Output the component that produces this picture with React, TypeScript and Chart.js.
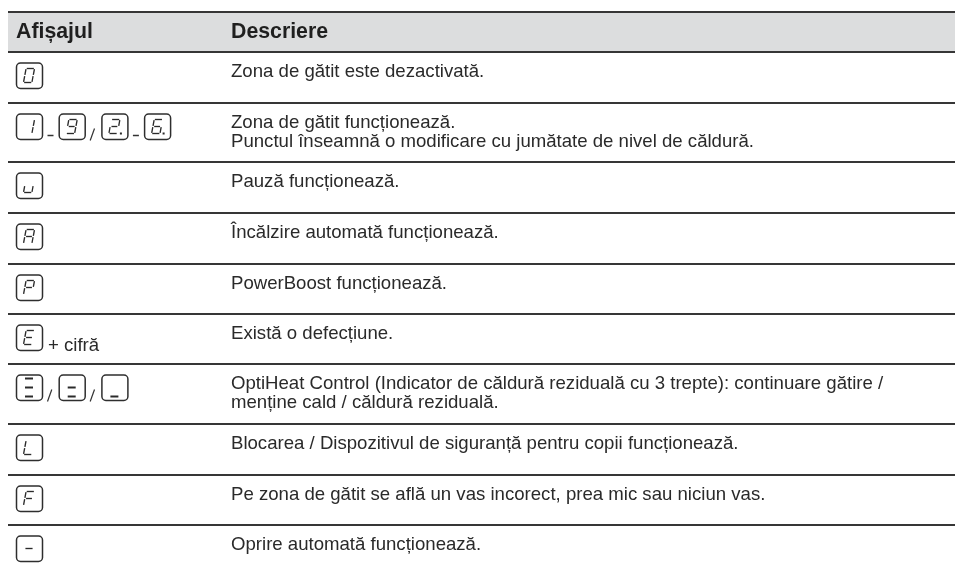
import React, { useEffect, useRef } from "react";
import { Chart, registerables } from "chart.js";

Chart.register(...registerables);

const headers = ["Afișajul", "Descriere"];
const rowLines = [12, 52, 103, 162, 213, 264, 314, 364, 424, 475, 525];
const displayTokens = [
  ["0"],
  ["1", "-", "9", "/", "2.", "-", "6."],
  ["u"],
  ["A"],
  ["P"],
  ["E", "+ cifră"],
  ["h3", "/", "h2", "/", "h1"],
  ["L"],
  ["F"],
  ["g"],
];
const descriptions = [
  ["Zona de gătit este dezactivată."],
  ["Zona de gătit funcționează.", "Punctul înseamnă o modificare cu jumătate de nivel de căldură."],
  ["Pauză funcționează."],
  ["Încălzire automată funcționează."],
  ["PowerBoost funcționează."],
  ["Există o defecțiune."],
  ["OptiHeat Control (Indicator de căldură reziduală cu 3 trepte): continuare gătire /", "menține cald / căldură reziduală."],
  ["Blocarea / Dispozitivul de siguranță pentru copii funcționează."],
  ["Pe zona de gătit se află un vas incorect, prea mic sau niciun vas."],
  ["Oprire automată funcționează."],
];
const segmentsByGlyph: Record<string, string> = {
  "0": "abcdef", "1": "bc", "9": "abcdfg", "2.": "abdeg", "6.": "acdefg",
  u: "cde", A: "abcefg", P: "abefg", E: "adefg", L: "def", F: "aefg", g: "g",
  h3: "adg", h2: "dg", h1: "d",
};

const INK = "#2a2a2a";
const FONT = '"Liberation Sans", Arial, sans-serif';
const BODY_PX = 18.6;
const HEAD_PX = 21.3;

function drawKey(ctx: CanvasRenderingContext2D, x: number, y: number, glyph: string) {
  const w = 26, h = 25.5;
  ctx.strokeStyle = "#2e2e2e";
  ctx.lineWidth = 1.5;
  ctx.beginPath();
  ctx.roundRect(x + 0.5, y + 0.5, w, h, 4);
  ctx.stroke();
  const segs = segmentsByGlyph[glyph] || "";
  const thick = glyph[0] === "h";
  const cx = x + 13, cy = y + 13;
  const hw = thick ? 4.7 : 4.2, hh = thick ? 9 : 7, sl = thick ? 0 : 1.3;
  const P = (u: number, v: number): [number, number] => [cx + u * hw - v * sl, cy + v * hh];
  const gw = thick || glyph === "g" ? 0.85 : 0.7;
  const map: Record<string, [[number, number], [number, number]]> = {
    a: [P(-0.85, -1), P(0.85, -1)],
    g: [P(-gw, 0), P(gw, 0)],
    d: [P(-0.85, 1), P(0.85, 1)],
    b: [P(1, -0.92), P(1, -0.1)],
    c: [P(1, 0.1), P(1, 0.92)],
    e: [P(-1, 0.1), P(-1, 0.92)],
    f: [P(-1, -0.92), P(-1, -0.1)],
  };
  ctx.lineWidth = thick ? 2 : 1.35;
  ctx.strokeStyle = "#2a2a2a";
  for (const s of segs) {
    const [p0, p1] = map[s];
    ctx.beginPath();
    ctx.moveTo(p0[0], p0[1]);
    ctx.lineTo(p1[0], p1[1]);
    ctx.stroke();
  }
  if (glyph.endsWith(".")) {
    ctx.fillStyle = "#2a2a2a";
    ctx.fillRect(cx + 5.5, cy + 6, 2, 2);
  }
}

const tablePlugin = {
  id: "tablePlugin",
  afterDatasetsDraw(chart: any) {
    const { ctx, scales } = chart;
    const X = (v: number) => scales.x.getPixelForValue(v);
    const Y = (v: number) => scales.y.getPixelForValue(v);
    ctx.save();
    ctx.textBaseline = "alphabetic";
    ctx.textAlign = "left";
    ctx.fillStyle = "#1f1f1f";
    ctx.font = `bold ${HEAD_PX}px ${FONT}`;
    ctx.fillText(headers[0], X(16), Y(38));
    ctx.fillText(headers[1], X(231), Y(38));

    descriptions.forEach((lines, i) => {
      const top = rowLines[i + 1];
      ctx.font = `${BODY_PX}px ${FONT}`;
      ctx.fillStyle = INK;
      lines.forEach((t, j) => ctx.fillText(t, X(231), Y(top + 25 + j * 19)));

      const keyY = Y(top + 10.5);
      let slot = 0;
      displayTokens[i].forEach((tok, k) => {
        const prevX = X(16 + (slot - 1) * 42.7);
        if (k % 2 === 0) {
          drawKey(ctx, X(16 + slot * 42.7), keyY, tok);
          slot++;
        } else if (tok === "+ cifră") {
          ctx.font = `${BODY_PX}px ${FONT}`;
          ctx.fillStyle = INK;
          ctx.fillText(tok, X(48), Y(top + 37));
        } else if (tok === "-") {
          ctx.strokeStyle = "#333";
          ctx.lineWidth = 1.5;
          ctx.beginPath();
          ctx.moveTo(prevX + 31.5, keyY + 22);
          ctx.lineTo(prevX + 37.5, keyY + 22);
          ctx.stroke();
        } else if (tok === "/") {
          ctx.strokeStyle = "#333";
          ctx.lineWidth = 1.2;
          ctx.beginPath();
          ctx.moveTo(prevX + 31.5, keyY + 27);
          ctx.lineTo(prevX + 35.8, keyY + 15);
          ctx.stroke();
        }
      });
    });
    ctx.restore();
  },
};

export default function App() {
  const ref = useRef<HTMLCanvasElement>(null);
  useEffect(() => {
    document.body.style.margin = "0";
    const chart = new Chart(ref.current!, {
      type: "bar",
      data: {
        datasets: [
          {
            label: headers.join(" / "),
            data: [{ y: (rowLines[0] + rowLines[1]) / 2, x: [8, 955] }] as any,
            backgroundColor: "#dcddde",
            barThickness: rowLines[1] - rowLines[0],
            borderWidth: 0,
          },
        ],
      },
      options: {
        indexAxis: "y",
        responsive: false,
        animation: false,
        layout: { padding: { left: 8, right: 0, top: 0, bottom: 0 } },
        plugins: { legend: { display: false }, tooltip: { enabled: false } },
        scales: {
          x: {
            type: "linear",
            min: 8,
            max: 955,
            ticks: { display: false },
            grid: { display: false, drawTicks: false },
            border: { display: false },
          },
          y: {
            type: "linear",
            min: 0,
            max: 571,
            reverse: true,
            offset: false,
            afterBuildTicks: (s: any) => {
              s.ticks = rowLines.map((value) => ({ value }));
            },
            ticks: { display: false },
            grid: { color: "#363636", lineWidth: 2, drawTicks: false, offset: false, z: 1 },
            border: { display: false },
          },
        },
      },
      plugins: [tablePlugin],
    } as any);
    return () => chart.destroy();
  }, []);
  return <canvas ref={ref} width={955} height={571} style={{ display: "block" }} />;
}
